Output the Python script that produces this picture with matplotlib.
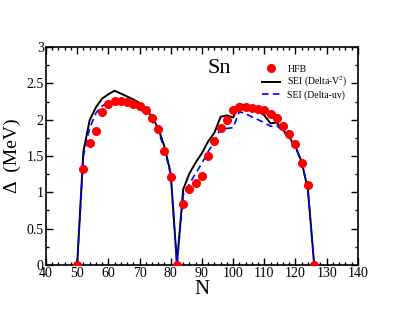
import numpy as np
import matplotlib
matplotlib.use("Agg")
import matplotlib.pyplot as plt
from matplotlib.ticker import MultipleLocator, FuncFormatter

# Neutron numbers
N = np.arange(50, 128, 2)

# HFB pairing gaps (MeV)
hfb = [0.00, 1.32, 1.68, 1.85, 2.11, 2.21, 2.26, 2.26, 2.24, 2.21,
       2.19, 2.13, 2.02, 1.87, 1.57, 1.21, 0.00, 0.84, 1.05, 1.13,
       1.23, 1.50, 1.70, 1.88, 2.00, 2.14, 2.18, 2.17, 2.16, 2.15,
       2.13, 2.08, 2.03, 1.92, 1.80, 1.66, 1.41, 1.10, 0.00]

# SEI (Delta-V^2)
sei_v2 = [0.00, 1.56, 1.99, 2.17, 2.29, 2.35, 2.40, 2.36, 2.32, 2.28,
          2.23, 2.15, 2.04, 1.88, 1.63, 1.26, 0.02, 1.04, 1.26, 1.41,
          1.54, 1.70, 1.82, 2.04, 2.06, 2.03, 2.22, 2.19, 2.16, 2.12,
          2.06, 1.95, 1.96, 1.86, 1.76, 1.63, 1.42, 1.03, 0.00]

# SEI (Delta-uv)
sei_uv = [0.00, 1.50, 1.88, 2.09, 2.19, 2.23, 2.25, 2.25, 2.22, 2.19,
          2.15, 2.08, 1.98, 1.84, 1.60, 1.24, 0.00, 0.96, 1.12, 1.26,
          1.40, 1.56, 1.70, 1.88, 1.88, 1.89, 2.11, 2.08, 2.04, 2.00,
          1.96, 1.91, 1.92, 1.84, 1.74, 1.62, 1.41, 1.03, 0.00]

plt.rcParams["font.family"] = ["Liberation Serif", "DejaVu Serif"]
plt.rcParams["mathtext.fontset"] = "stix"

fig = plt.figure(figsize=(4.03, 3.12), dpi=100)
ax = fig.add_axes([0.114, 0.151, 0.774, 0.698])

ax.plot(N, hfb, "o", color="red", markersize=5.5, label="HFB", zorder=3)
ax.plot(N, sei_v2, "-", color="black", linewidth=1.4, label="SEI (Delta-V$^2$)")
ax.plot(N, sei_uv, "--", color="blue", linewidth=1.2, dashes=(4, 2.5),
        label="SEI (Delta-uv)")

ax.set_xlim(40, 140)
ax.set_ylim(0, 3)
ax.xaxis.set_major_locator(MultipleLocator(10))
ax.xaxis.set_minor_locator(MultipleLocator(2))
ax.yaxis.set_major_locator(MultipleLocator(0.5))
ax.yaxis.set_minor_locator(MultipleLocator(0.25))
ax.yaxis.set_major_formatter(FuncFormatter(lambda v, p: f"{v:g}"))
ax.tick_params(which="both", direction="in", top=True, right=True,
               labelsize=10, pad=1.5)
ax.tick_params(which="major", length=5, width=1)
ax.tick_params(which="minor", length=2.5, width=1)
for s in ax.spines.values():
    s.set_linewidth(1.2)

ax.set_xlabel("N", fontsize=15, labelpad=0)
ax.set_ylabel("Δ  (MeV)", fontsize=14, labelpad=4)
ax.text(95.5, 2.7, "Sn", fontsize=16, ha="center", va="center")

ax.legend(loc="upper right", bbox_to_anchor=(0.99, 0.95), frameon=False,
          fontsize=7, handlelength=1.8, labelspacing=0.12, borderaxespad=0.3)

fig.savefig("out.png", dpi=100)
